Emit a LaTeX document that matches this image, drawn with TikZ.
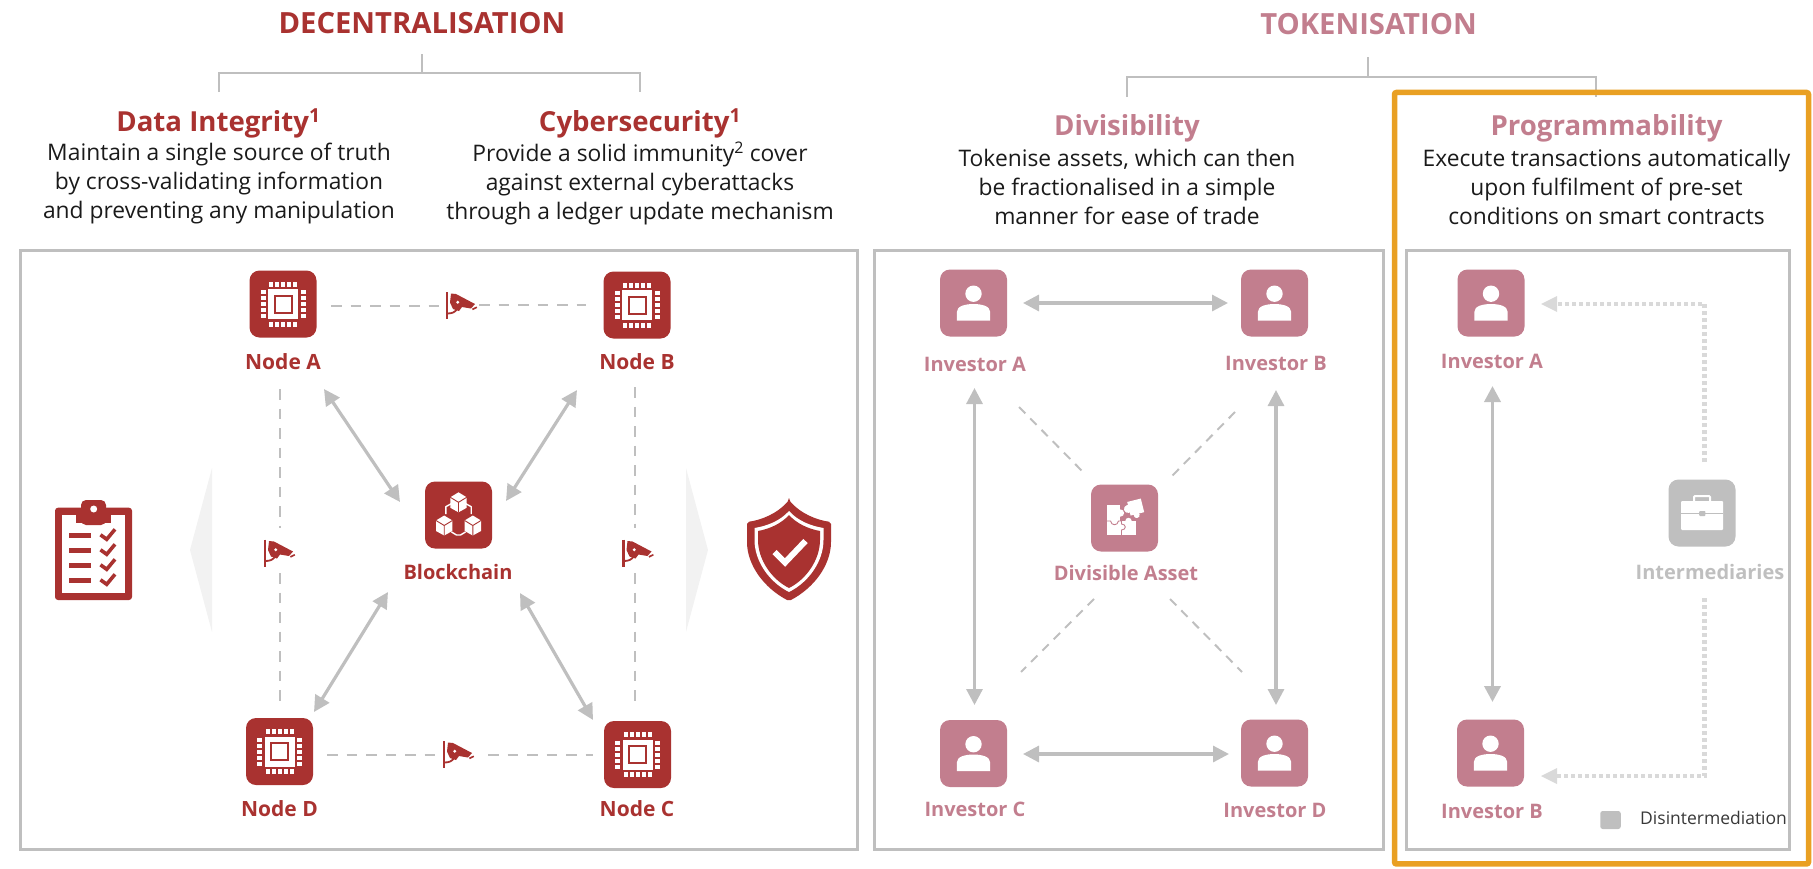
\documentclass[tikz,border=0pt]{standalone}
\usepackage{fontspec}
\setmainfont{Open Sans}
\usetikzlibrary{arrows.meta}
\definecolor{cred}{HTML}{A93230}
\definecolor{cpink}{HTML}{C27E8E}
\definecolor{cgray}{HTML}{BFBFBF}
\definecolor{cdot}{HTML}{D9D9D9}
\definecolor{clight}{HTML}{F2F2F2}
\definecolor{corange}{HTML}{E9A023}
\definecolor{cbody}{HTML}{1A1A1A}
\newcommand{\fsz}[1]{\fontsize{#1pt}{#1pt}\selectfont}
\tikzset{
  x=1pt,y=-1pt,
  panel/.style={draw=cgray,line width=3pt},
  tree/.style={draw=cgray,line width=1.6pt},
  twoway/.style={draw=cgray,line width=3.2pt,{Triangle[length=16pt,width=16pt]}-{Triangle[length=16pt,width=16pt]}},
  dashline/.style={draw=cgray,line width=2.9pt,dash pattern=on 10.5pt off 9pt},
  thindash/.style={draw=cgray,line width=2pt,dash pattern=on 9pt off 7pt},
  dotline/.style={draw=cdot,line width=4.4pt,dash pattern=on 3.8pt off 3.2pt},
  dothead/.style={draw=none,fill=cdot},
  icon/.style={rectangle,rounded corners=10pt,minimum size=67pt,inner sep=0pt,draw=none},
  redicon/.style={icon,fill=cred},
  pinkicon/.style={icon,fill=cpink},
  grayicon/.style={icon,fill=cgray},
  lab/.style={font=\fsz{20}\bfseries,inner sep=0pt},
  redlab/.style={lab,text=cred},
  pinklab/.style={lab,text=cpink},
  graylab/.style={lab,text=cgray},
  maintitle/.style={font=\fsz{29.2}\bfseries,inner sep=0pt},
  subtitle/.style={font=\fsz{27.6}\bfseries,inner sep=0pt},
  bodytext/.style={font=\fsz{22.8}\selectfont,align=center,text=cbody,inner sep=0pt,execute at begin node=\setlength{\baselineskip}{29pt}},
  chipicon/.pic={
    \fill[white] (-15,-15) rectangle (15,15);
    \fill[cred] (-9.5,-9.5) rectangle (9.5,9.5);
    \fill[white] (-7.5,-7.5) rectangle (7.5,7.5);
    \foreach \k in {-12,-6,0,6,12}{
      \fill[white] (\k-2,-22.5) rectangle (\k+2,-17.5);
      \fill[white] (\k-2,17.5) rectangle (\k+2,22.5);
      \fill[white] (-22.5,\k-2) rectangle (-17.5,\k+2);
      \fill[white] (17.5,\k-2) rectangle (22.5,\k+2);
    }
  },
  personicon/.pic={
    \fill[white] (0,-9.3) circle (8.2);
    \fill[white] (-16.7,17.5) -- (-16.7,9) .. controls (-16.7,3) and (-8,1) .. (0,1) .. controls (8,1) and (16.7,3) .. (16.7,9) -- (16.7,17.5) -- cycle;
  },
  cube/.pic={
    \fill[white] (0,-10) -- (8.2,-5) -- (8.2,5.5) -- (0,10) -- (-8.2,5.5) -- (-8.2,-5) -- cycle;
    \draw[cred,line width=.9pt] (-8.2,-5) -- (0,0) -- (8.2,-5) (0,0) -- (0,10);
  },
  blockicon/.pic={
    \draw[white,line width=1.4pt,line join=round] (-6,-12) -- (-12.7,-8.3) -- (-12.7,-1);
    \draw[white,line width=1.4pt,line join=round] (6,-12) -- (12.7,-8.3) -- (12.7,-1);
    \draw[white,line width=1.4pt,line join=round] (-7,17) -- (-2,20) -- (2,20) -- (7,17);
    \pic at (0,-12.7) {cube};
    \pic at (-14.3,10.5) {cube};
    \pic at (14.3,10.5) {cube};
  },
  puzzleicon/.pic={
    \fill[white] (-18,-13) rectangle (-5,3.5);
    \fill[white] (-18,3) rectangle (11.5,17);
    \fill[white] (-4,-5) circle (3.6);
    \fill[white] (4,3) circle (3.2);
    \draw[cpink,line width=.9pt] (-18,3) -- (-14,3) .. controls (-13,8) and (-7,8) .. (-6,3) -- (-3,3) -- (-3,6) .. controls (2,6) and (2,12) .. (-3,12) -- (-3,17);
    \begin{scope}[shift={(9.5,-9.5)},rotate=14]
      \fill[white] (-5,-8) rectangle (9,6);
      \fill[white] (-6,-1) circle (4);
      \fill[white] (1,7) circle (3);
    \end{scope}
  },
  caseicon/.pic={
    \draw[white,line width=2pt,rounded corners=1pt] (-8,-11) -- (-8,-17) -- (8,-17) -- (8,-11);
    \fill[white,rounded corners=1pt] (-21,-12) rectangle (21,17);
    \fill[cgray] (-21,-0.4) rectangle (21,.6);
    \fill[cgray,rounded corners=.8pt] (-2.8,-2) rectangle (3.4,3);
  },
  camicon/.pic={
    \draw[cred,line width=2.2pt] (0,-13.5) -- (0,13.5);
    \fill[cred] (4,-12) -- (9,-11.5) -- (28,-1.5) -- (24,3) -- (15,1.5) -- (12,5.5) -- (6,3.5) -- (3,-3) -- cycle;
    \draw[cred,line width=1.8pt] (0,8) .. controls (5,8) and (8,7) .. (10.5,3);
    \fill[white] (10.7,-3.3) circle (1.6);
    \fill[cred] (25,3.2) -- (29.5,1) -- (30.2,2.4) -- (25.8,4.6) -- cycle;
  },
}
\begin{document}
\begin{tikzpicture}
\useasboundingbox (0,0) rectangle (1813,868);
% panels
\node[panel,inner sep=0pt,minimum width=837pt,minimum height=599pt] (pL) at (438.5,549.5) {};
\node[panel,inner sep=0pt,minimum width=509pt,minimum height=599pt] (pM) at (1128.5,549.5) {};
\node[panel,inner sep=0pt,minimum width=383pt,minimum height=599pt] (pR) at (1597.5,549.5) {};

% titles
\node[maintitle,text=cred] (tD) at (422,23) {DECENTRALISATION};
\node[maintitle,text=cpink] (tT) at (1368.5,24.5) {TOKENISATION};
\node[subtitle,text=cred] (sDI) at (218.5,123) {Data Integrity\textsuperscript{1}};
\node[subtitle,text=cred] (sCS) at (640,123) {Cybersecurity\textsuperscript{1}};
\node[subtitle,text=cpink] (sDV) at (1127,128) {Divisibility};
\node[subtitle,text=cpink] (sPR) at (1606.5,128) {Programmability};
\node[bodytext] (bDI) at (219,183.5) {Maintain a single source of truth\\by cross-validating information\\and preventing any manipulation};
\node[bodytext] (bCS) at (640,183.5) {Provide a solid immunity\textsuperscript{2} cover\\against external cyberattacks\\through a ledger update mechanism};
\node[bodytext] (bDV) at (1127,186.5) {Tokenise assets, which can then\\be fractionalised in a simple\\manner for ease of trade};
\node[bodytext] (bPR) at (1606.5,186.5) {Execute transactions automatically\\upon fulfilment of pre-set\\conditions on smart contracts};

% title trees
\coordinate (treeDtop) at (422,54);
\coordinate (treeDmid) at (422,73);
\coordinate (treeDl) at (219,92);
\coordinate (treeDr) at (640,92);
\draw[tree] (treeDtop) -- (treeDmid);
\draw[tree] (treeDl) |- (treeDmid) -| (treeDr);
\coordinate (treeTtop) at (1368,57);
\coordinate (treeTmid) at (1368,77);
\coordinate (treeTl) at (1127,97);
\coordinate (treeTr) at (1596,97);
\draw[tree] (treeTtop) -- (treeTmid);
\draw[tree] (treeTl) |- (treeTmid) -| (treeTr);

% orange highlight
\node[draw=corange,line width=5.5pt,rounded corners=2pt,inner sep=0pt,minimum width=414pt,minimum height=771.5pt] (hl) at (1601.5,478.2) {};

% left side arrows
\fill[clight] (190,550) -- (212,468) -- (212,632) -- cycle;
\fill[clight] (708,550) -- (686,468) -- (686,632) -- cycle;

% left nodes
\node[redicon] (nA) at (283,304) {};
\node[redicon] (nB) at (637,305) {};
\node[redicon] (nC) at (637.5,754.5) {};
\node[redicon] (nD) at (279.5,751.5) {};
\node[redicon] (nBC) at (458.5,515) {};
\pic at (nA) {chipicon};
\pic at (nB) {chipicon};
\pic at (nC) {chipicon};
\pic at (nD) {chipicon};
\pic at (nBC) {blockicon};
\node[redlab,font=\fsz{21}\bfseries] (lA) at (283,361.5) {Node A};
\node[redlab,font=\fsz{21}\bfseries] (lB) at (637,361.5) {Node B};
\node[redlab,font=\fsz{21}\bfseries] (lC) at (637,809) {Node C};
\node[redlab,font=\fsz{21}\bfseries] (lD) at (279.5,809) {Node D};
\node[redlab] (lBC) at (458,572) {Blockchain};

% left connectors
\coordinate (aA) at (324,389); \coordinate (aAb) at (400,502);
\coordinate (aB) at (577,390); \coordinate (aBb) at (506,501);
\coordinate (aD) at (314,712); \coordinate (aDb) at (388,592);
\coordinate (aC) at (593,720); \coordinate (aCb) at (520,593);
\draw[twoway] (aA) -- (aAb);
\draw[twoway] (aB) -- (aBb);
\draw[twoway] (aD) -- (aDb);
\draw[twoway] (aC) -- (aCb);

\coordinate (camT) at (447,305.5);
\coordinate (camB) at (444,754.5);
\coordinate (camL) at (265,553);
\coordinate (camR) at (623.5,553);
\pic at (camT) {camicon};
\pic at (camB) {camicon};
\pic at (camL) {camicon};
\pic at (camR) {camicon};
\coordinate (dT1) at (331,306); \coordinate (dT2) at (443,306);
\coordinate (dT3) at (479,305); \coordinate (dT4) at (586,305);
\coordinate (dB1) at (327,755); \coordinate (dB2) at (442,755);
\coordinate (dB3) at (488,755); \coordinate (dB4) at (593,755);
\coordinate (dL1) at (280,389); \coordinate (dL2) at (280,528);
\coordinate (dL3) at (280,573); \coordinate (dL4) at (280,705);
\coordinate (dR1) at (635,387); \coordinate (dR2) at (635,528);
\coordinate (dR3) at (635,573); \coordinate (dR4) at (635,707);
\draw[dashline] (dT1) -- (dT2);
\draw[dashline] (dT3) -- (dT4);
\draw[dashline] (dB1) -- (dB2);
\draw[dashline] (dB3) -- (dB4);
\draw[dashline] (dL1) -- (dL2);
\draw[dashline] (dL3) -- (dL4);
\draw[dashline] (dR1) -- (dR2);
\draw[dashline] (dR3) -- (dR4);

% clipboard
\fill[cred,rounded corners=3pt] (55,507.7) rectangle (132,600);
\fill[white] (62.3,515) rectangle (125,592.7);
\fill[cred,rounded corners=5pt] (81,500) rectangle (106,525);
\fill[cred] (76,515) rectangle (111,522.7);
\fill[white] (93.7,509) circle (3.5);
\foreach \yy in {535.3,550.3,565.3,580.3}{
  \fill[cred] (69,\yy-2.5) rectangle (91,\yy+2.5);
  \draw[cred,line width=3.6pt] (100.5,\yy-.5) -- (106.7,\yy+4) -- (115,\yy-6);
}

% shield
\begin{scope}[shift={(789,550)}]
\fill[cred,rounded corners=2pt] (0,-50) .. controls (-12,-36) and (-28,-30) .. (-42,-28) -- (-42,-10) .. controls (-42,15) and (-25,38) .. (0,51) .. controls (25,38) and (42,15) .. (42,-10) -- (42,-28) .. controls (28,-30) and (12,-36) .. (0,-50) -- cycle;
\fill[white] (0,-39) .. controls (-9,-29) and (-22,-24) .. (-34.5,-22) -- (-34.5,-10) .. controls (-34.5,11) and (-20,32) .. (0,42) .. controls (20,32) and (34.5,11) .. (34.5,-10) -- (34.5,-22) .. controls (22,-24) and (9,-29) .. (0,-39) -- cycle;
\fill[cred] (0,-35) .. controls (-8,-26) and (-20,-21) .. (-31,-19) -- (-31,-10) .. controls (-31,9) and (-18,29) .. (0,38) .. controls (18,29) and (31,9) .. (31,-10) -- (31,-19) .. controls (20,-21) and (8,-26) .. (0,-35) -- cycle;
\draw[white,line width=6pt] (-14.5,2) -- (-4,12.5) -- (16.5,-9);
\end{scope}

% middle nodes
\node[pinkicon] (iA) at (973.5,303) {};
\node[pinkicon] (iB) at (1274.5,303) {};
\node[pinkicon] (iC) at (973.5,753.5) {};
\node[pinkicon] (iD) at (1274.5,753) {};
\node[pinkicon] (dv) at (1124.5,518) {};
\pic at (iA) {personicon};
\pic at (iB) {personicon};
\pic at (iC) {personicon};
\pic at (iD) {personicon};
\pic at (dv) {puzzleicon};
\node[pinklab] (liA) at (975,364) {Investor A};
\node[pinklab] (liB) at (1276,363) {Investor B};
\node[pinklab] (liC) at (975,809) {Investor C};
\node[pinklab] (liD) at (1275,810) {Investor D};
\node[pinklab] (ldv) at (1126,573) {Divisible Asset};

\coordinate (hT1) at (1023,303); \coordinate (hT2) at (1228,303);
\coordinate (hB1) at (1023,754); \coordinate (hB2) at (1229,754);
\coordinate (vL1) at (974.5,388); \coordinate (vL2) at (974.5,705);
\coordinate (vR1) at (1276,390); \coordinate (vR2) at (1276,705);
\draw[twoway] (hT1) -- (hT2);
\draw[twoway] (hB1) -- (hB2);
\draw[twoway] (vL1) -- (vL2);
\draw[twoway] (vR1) -- (vR2);
\coordinate (tA1) at (1019,407); \coordinate (tA2) at (1083,472);
\coordinate (tB1) at (1235,412); \coordinate (tB2) at (1171,477);
\coordinate (tC1) at (1094,599); \coordinate (tC2) at (1021,672);
\coordinate (tD1) at (1170,599); \coordinate (tD2) at (1242,672);
\draw[thindash] (tA1) -- (tA2);
\draw[thindash] (tB1) -- (tB2);
\draw[thindash] (tC1) -- (tC2);
\draw[thindash] (tD1) -- (tD2);

% right nodes
\node[pinkicon] (jA) at (1491,303) {};
\node[pinkicon] (jB) at (1490.5,753) {};
\node[grayicon] (im) at (1702,513) {};
\pic at (jA) {personicon};
\pic at (jB) {personicon};
\pic at (im) {caseicon};
\node[pinklab] (ljA) at (1492,361.5) {Investor A};
\node[pinklab] (ljB) at (1492,811.5) {Investor B};
\node[graylab] (lim) at (1710,571.5) {Intermediaries};
\coordinate (vJ1) at (1492.5,386); \coordinate (vJ2) at (1492.5,702);
\draw[twoway,line width=3.6pt] (vJ1) -- (vJ2);

\coordinate (dU) at (1704.5,462); \coordinate (dUc) at (1704.5,304); \coordinate (dUe) at (1556,304); \coordinate (dUt) at (1541,304);
\coordinate (dD) at (1704.5,598); \coordinate (dDc) at (1704.5,776); \coordinate (dDe) at (1556,776); \coordinate (dDt) at (1541,776);
\draw[dotline] (dU) -- (dUc) -- (dUe);
\draw[dotline] (dD) -- (dDc) -- (dDe);
\fill[dothead] (dUt) -- (1557,296) -- (1557,312) -- cycle;
\fill[dothead] (dDt) -- (1557,768) -- (1557,784) -- cycle;

% legend
\node[fill=cgray,draw=none,rounded corners=2.5pt,minimum width=20.5pt,minimum height=18pt,inner sep=0pt] (lgs) at (1610.5,820) {};
\node[font=\fsz{17.5}\selectfont,text=black!78,inner sep=0pt,anchor=west] (lgt) at (1640,818) {Disintermediation};
\end{tikzpicture}
\end{document}
